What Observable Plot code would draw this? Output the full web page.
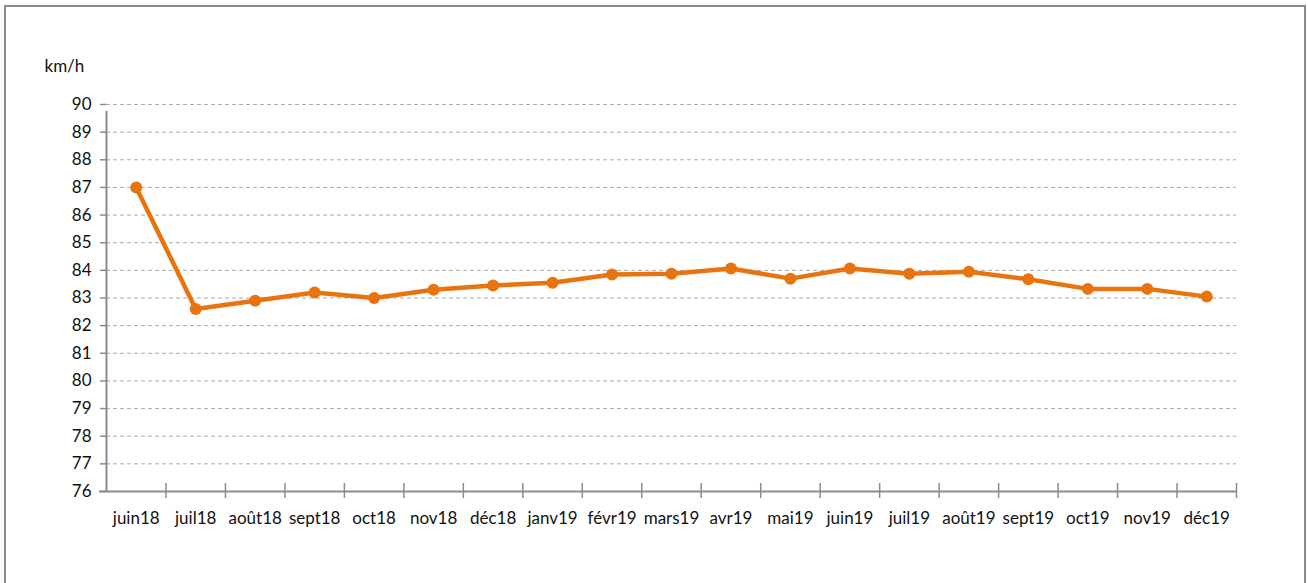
<!DOCTYPE html>
<html>
<head>
<meta charset="utf-8">
<script src="https://cdn.jsdelivr.net/npm/d3@7"></script>
<script src="https://cdn.jsdelivr.net/npm/@observablehq/plot@0.6"></script>
<style>
  html, body { margin: 0; padding: 0; background: #fff; }
  #wrap { position: relative; width: 1308px; height: 583px; overflow: hidden; }
  #border { position: absolute; left: 4px; top: 5px; width: 1302px; height: 600px; border: 2px solid #8c8c8c; box-sizing: border-box; }
  #chart { position: absolute; left: 0; top: 0; }
</style>
</head>
<body>
<div id="wrap"><div id="border"></div><div id="chart"></div></div>
<script>
const months = ["juin18","juil18","août18","sept18","oct18","nov18","déc18","janv19","févr19","mars19","avr19","mai19","juin19","juil19","août19","sept19","oct19","nov19","déc19"];
const speeds = [87.0, 82.6, 82.9, 83.2, 83.0, 83.3, 83.45, 83.55, 83.85, 83.88, 84.07, 83.7, 84.07, 83.88, 83.95, 83.68, 83.33, 83.33, 83.05];
const yTicks = d3.range(76, 91);
const unit = "km/h";

const data = months.map((m, i) => ({i, month: m, value: speeds[i]}));
const boundaries = d3.range(-0.5, months.length, 1);
const font = "Lato, 'Open Sans', sans-serif";
const axisColor = "#8c8c8c";
const orange = "#e8740f";
const textColor = "#111";

const plot = Plot.plot({
  width: 1308,
  height: 583,
  marginLeft: 106,
  marginRight: 72,
  marginTop: 104,
  marginBottom: 92,
  style: {fontFamily: font, fontSize: "17px", color: textColor, background: "transparent"},
  x: {type: "linear", domain: [-0.5, months.length - 0.5], axis: null},
  y: {domain: [76, 90], axis: null},
  marks: [
    Plot.ruleY(yTicks.filter(d => d > 76), {stroke: "#aaaaaa", strokeWidth: 1, strokeDasharray: "4,3"}),
    Plot.axisY({ticks: yTicks, tickSize: 6, tickPadding: 9, stroke: axisColor, strokeWidth: 1.5, strokeOpacity: 1, fontSize: 17, fill: textColor, tickFormat: d => d, label: null}),
    Plot.ruleY([76], {stroke: axisColor, strokeWidth: 2, insetLeft: -7}),
    Plot.ruleX([boundaries[0]], {y1: 76, y2: 90, stroke: axisColor, strokeWidth: 2, insetBottom: -7}),
    Plot.ruleX(boundaries.slice(1), {y1: 76, y2: 76, insetTop: -8, insetBottom: -7, stroke: axisColor, strokeWidth: 1.5}),
    Plot.axisX(d3.range(months.length), {tickSize: 0, tickPadding: 20, tickFormat: i => months[i], fontSize: 17, fill: textColor, label: null}),
    Plot.line(data, {x: "i", y: "value", stroke: orange, strokeWidth: 4.5}),
    Plot.dot(data, {x: "i", y: "value", r: 6, fill: orange, stroke: "none"}),
    Plot.text([unit], {frameAnchor: "top-left", dx: -62, dy: -45, textAnchor: "start", fontSize: 17, fill: textColor})
  ]
});
document.getElementById("chart").appendChild(plot);
</script>
</body>
</html>
